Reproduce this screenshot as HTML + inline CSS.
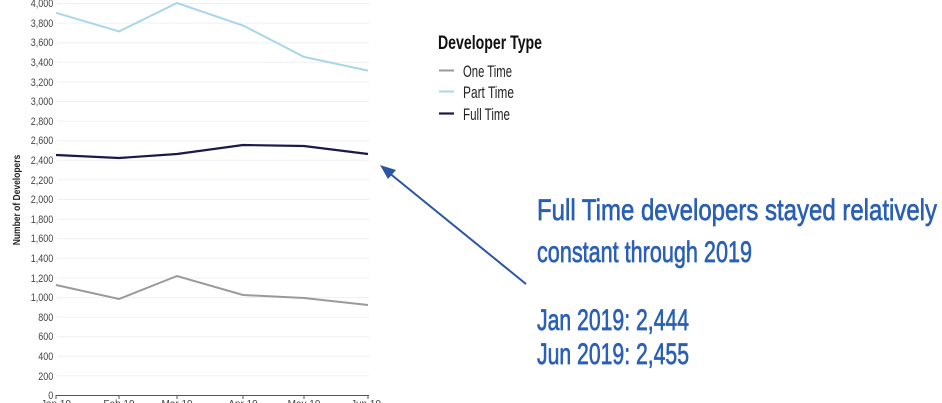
<!DOCTYPE html>
<html><head><meta charset="utf-8"><style>
html,body{margin:0;padding:0;background:#fff;width:942px;height:403px;overflow:hidden}
svg text{font-family:"Liberation Sans Narrow","Liberation Sans",sans-serif}
</style></head><body>
<svg width="942" height="403" viewBox="0 0 942 403" xmlns="http://www.w3.org/2000/svg">
<g stroke="#f0f0f0" stroke-width="1">
<line x1="57" x2="369" y1="3.5" y2="3.5"/><line x1="57" x2="369" y1="23.1" y2="23.1"/><line x1="57" x2="369" y1="42.7" y2="42.7"/><line x1="57" x2="369" y1="62.3" y2="62.3"/><line x1="57" x2="369" y1="81.9" y2="81.9"/><line x1="57" x2="369" y1="101.5" y2="101.5"/><line x1="57" x2="369" y1="121.1" y2="121.1"/><line x1="57" x2="369" y1="140.7" y2="140.7"/><line x1="57" x2="369" y1="160.3" y2="160.3"/><line x1="57" x2="369" y1="179.9" y2="179.9"/><line x1="57" x2="369" y1="199.5" y2="199.5"/><line x1="57" x2="369" y1="219.1" y2="219.1"/><line x1="57" x2="369" y1="238.7" y2="238.7"/><line x1="57" x2="369" y1="258.3" y2="258.3"/><line x1="57" x2="369" y1="277.9" y2="277.9"/><line x1="57" x2="369" y1="297.5" y2="297.5"/><line x1="57" x2="369" y1="317.1" y2="317.1"/><line x1="57" x2="369" y1="336.7" y2="336.7"/><line x1="57" x2="369" y1="356.3" y2="356.3"/><line x1="57" x2="369" y1="375.9" y2="375.9"/>
</g>
<g font-size="11" fill="#444" text-anchor="end" transform="scale(0.82,1)">
<text x="65" y="7">4,000</text><text x="65" y="27">3,800</text><text x="65" y="46">3,600</text><text x="65" y="66">3,400</text><text x="65" y="86">3,200</text><text x="65" y="105">3,000</text><text x="65" y="125">2,800</text><text x="65" y="144">2,600</text><text x="65" y="164">2,400</text><text x="65" y="184">2,200</text><text x="65" y="203">2,000</text><text x="65" y="223">1,800</text><text x="65" y="242">1,600</text><text x="65" y="262">1,400</text><text x="65" y="282">1,200</text><text x="65" y="301">1,000</text><text x="65" y="321">800</text><text x="65" y="340">600</text><text x="65" y="360">400</text><text x="65" y="380">200</text><text x="65" y="399">0</text>
</g>
<text transform="translate(20,200) rotate(-90) scale(0.85,1)" font-size="10" font-weight="bold" fill="#222" text-anchor="middle">Number of Developers</text>
<line x1="56" x2="369" y1="395.5" y2="395.5" stroke="#555" stroke-width="1"/>
<g stroke="#555"><line x1="56" x2="56" y1="395" y2="399"/><line x1="119" x2="119" y1="395" y2="399"/><line x1="177" x2="177" y1="395" y2="399"/><line x1="243" x2="243" y1="395" y2="399"/><line x1="304" x2="304" y1="395" y2="399"/><line x1="368" x2="368" y1="395" y2="399"/></g>
<g font-size="10" fill="#444" text-anchor="middle"><text x="56" y="407">Jan 19</text><text x="119" y="407">Feb 19</text><text x="177" y="407">Mar 19</text><text x="243" y="407">Apr 19</text><text x="304" y="407">May 19</text><text x="366" y="407">Jun 19</text></g>
<polyline fill="none" stroke="#a9d6ec" stroke-width="2" points="56,12.8 119,31.4 177,3 243,25.5 304,56.9 368,70.6"/>
<polyline fill="none" stroke="#1a1a4a" stroke-width="2.2" points="56,155 119,158 177,154 243,145 304,146 368,154"/>
<polyline fill="none" stroke="#9a9a9a" stroke-width="2" points="56,285 119,299 177,276 243,295 304,298 368,305"/>
<text x="438" y="49" font-size="19" font-weight="bold" fill="#111" textLength="104" lengthAdjust="spacingAndGlyphs">Developer Type</text>
<line x1="439" x2="454" y1="70.5" y2="70.5" stroke="#9a9a9a" stroke-width="2"/>
<line x1="439" x2="454" y1="91.5" y2="91.5" stroke="#a9d6ec" stroke-width="2"/>
<line x1="439" x2="454" y1="113.5" y2="113.5" stroke="#1a1a4a" stroke-width="2.2"/>
<g font-size="17" fill="#222"><text x="463" y="77" textLength="49" lengthAdjust="spacingAndGlyphs">One Time</text><text x="463" y="98" textLength="51" lengthAdjust="spacingAndGlyphs">Part Time</text><text x="463" y="120" textLength="47" lengthAdjust="spacingAndGlyphs">Full Time</text></g>
<line x1="526" y1="284" x2="388" y2="172" stroke="#2a55a5" stroke-width="2"/>
<polygon points="380,165 396,170 388,179" fill="#2a55a5"/>
<g font-size="30" fill="#2a5fb5" stroke="#2a5fb5" stroke-width="0.7">
<text x="537" y="220" textLength="400" lengthAdjust="spacingAndGlyphs">Full Time developers stayed relatively</text>
<text x="537" y="262" textLength="215" lengthAdjust="spacingAndGlyphs">constant through 2019</text>
<text x="537" y="330" textLength="152" lengthAdjust="spacingAndGlyphs">Jan 2019: 2,444</text>
<text x="537" y="364" textLength="152" lengthAdjust="spacingAndGlyphs">Jun 2019: 2,455</text>
</g>
</svg>
</body></html>
